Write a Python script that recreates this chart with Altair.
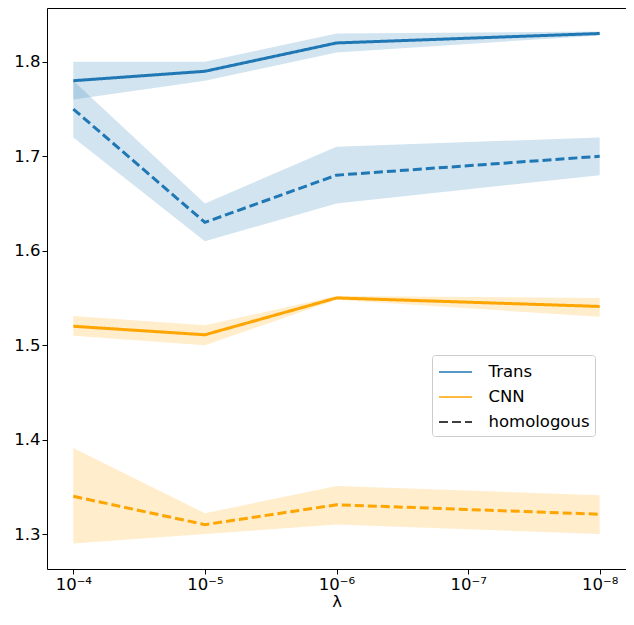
import altair as alt
import pandas as pd

# x positions: exponent of lambda (10^exp)
lam_exp = [-4, -5, -6, -8]
xtick_values = [-4, -5, -6, -7, -8]
xtick_labels = ["10⁻⁴", "10⁻⁵", "10⁻⁶", "10⁻⁷", "10⁻⁸"]
ytick_values = [1.3, 1.4, 1.5, 1.6, 1.7, 1.8]

models = ["Trans", "CNN"]
model_colors = ["#1f77b4", "#ffa500"]
legend_keys = ["Trans", "CNN", "homologous"]
legend_colors = ["#1f77b4", "#ffa500", "#000000"]

trans_mean = [1.78, 1.79, 1.82, 1.83]
trans_lo = [1.76, 1.78, 1.81, 1.828]
trans_hi = [1.80, 1.80, 1.83, 1.832]

trans_hom_mean = [1.75, 1.63, 1.68, 1.70]
trans_hom_lo = [1.72, 1.61, 1.65, 1.68]
trans_hom_hi = [1.78, 1.65, 1.71, 1.72]

cnn_mean = [1.52, 1.511, 1.55, 1.541]
cnn_lo = [1.51, 1.50, 1.548, 1.53]
cnn_hi = [1.531, 1.521, 1.552, 1.55]

cnn_hom_mean = [1.34, 1.31, 1.331, 1.321]
cnn_hom_lo = [1.29, 1.30, 1.31, 1.30]
cnn_hom_hi = [1.391, 1.322, 1.351, 1.341]

series = [
    ("Trans", "Trans", "Trans-main", trans_mean, trans_lo, trans_hi),
    ("Trans", "homologous", "Trans-hom", trans_hom_mean, trans_hom_lo, trans_hom_hi),
    ("CNN", "CNN", "CNN-main", cnn_mean, cnn_lo, cnn_hi),
    ("CNN", "homologous", "CNN-hom", cnn_hom_mean, cnn_hom_lo, cnn_hom_hi),
]

rows = []
for model, style, name, m, lo, hi in series:
    for i, x in enumerate(lam_exp):
        rows.append({"model": model, "style": style, "series": name,
                     "exp": x, "mean": m[i], "lo": lo[i], "hi": hi[i]})
df = pd.DataFrame(rows)

label_expr = ""
for v, lab in zip(xtick_values, xtick_labels):
    label_expr += f"datum.value == {v} ? '{lab}' : "
label_expr += "''"

fill_scale = alt.Scale(domain=models, range=model_colors)
color_scale = alt.Scale(domain=legend_keys, range=legend_colors)
dash_scale = alt.Scale(domain=legend_keys, range=[[1, 0], [1, 0], [9, 4]])

x_enc = alt.X("exp:Q",
              scale=alt.Scale(domain=[-8.2, -3.8], reverse=True, nice=False, zero=False),
              axis=alt.Axis(values=xtick_values, labelExpr=label_expr, title="λ",
                            titleFontSize=16.5, titleFontWeight="normal", titlePadding=1))
y_axis = alt.Axis(values=ytick_values, format=".1f", title=None)
y_scale = alt.Scale(domain=[1.263, 1.857], nice=False, zero=False)

legend = alt.Legend(
    title=None, orient="none", legendX=385, legendY=347,
    symbolType="M-1.5,0L1.5,0", symbolSize=484, symbolStrokeWidth=1.5,
    symbolOffset=6.5, labelOffset=21,
    labelFontSize=16.5, labelFont="DejaVu Sans", labelColor="black",
    rowPadding=4, padding=5, fillColor="white", strokeColor="#cccccc",
    cornerRadius=3,
)

band = alt.Chart(df).mark_area(fillOpacity=0.2).encode(
    x=x_enc,
    y=alt.Y("lo:Q", scale=y_scale, axis=y_axis),
    y2="hi:Q",
    fill=alt.Fill("model:N", scale=fill_scale, legend=None),
    detail="series:N",
)

line = alt.Chart(df).mark_line(strokeWidth=3).encode(
    x=x_enc,
    y=alt.Y("mean:Q", scale=y_scale, axis=y_axis),
    color=alt.Color("model:N", scale=color_scale, legend=legend),
    strokeDash=alt.StrokeDash("style:N", scale=dash_scale, legend=legend),
    detail="series:N",
)

chart = alt.layer(band, line).properties(
    width=579, height=561, autosize="none",
    padding={"left": 39, "top": 0, "right": 0, "bottom": 44},
).configure_view(
    stroke="black", strokeWidth=1
).configure_axis(
    domain=False, grid=False, tickColor="black", tickSize=5, tickWidth=1,
    labelFont="DejaVu Sans", labelFontSize=16.5, labelColor="black", labelPadding=2,
    titleFont="DejaVu Sans", titleColor="black",
)

chart.save("out.html", embed_options={"renderer": "svg", "actions": False})
